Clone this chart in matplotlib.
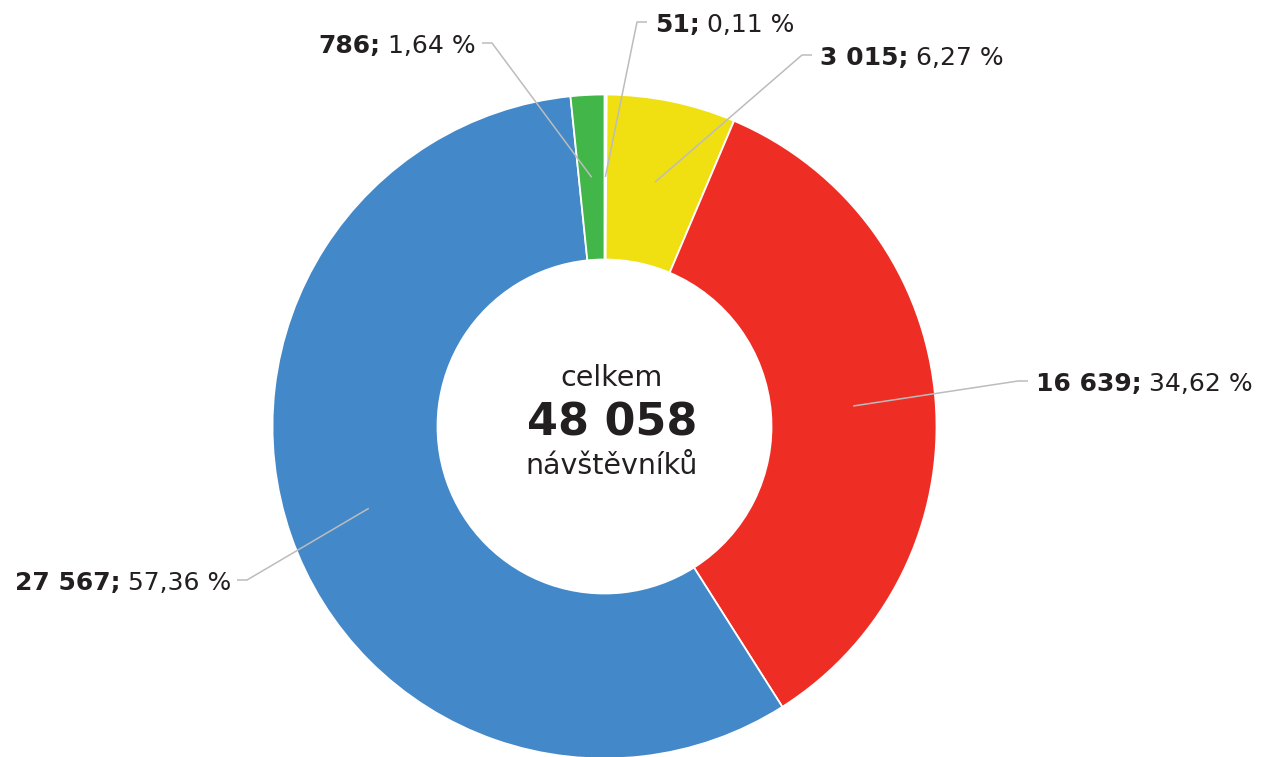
import numpy as np
import matplotlib.pyplot as plt

# -------------------------
# Data (clockwise from top)
# -------------------------
values = [51, 3015, 16639, 27567, 786]
value_labels = ["51;", "3 015;", "16 639;", "27 567;", "786;"]
pct_labels = ["0,11 %", "6,27 %", "34,62 %", "57,36 %", "1,64 %"]
total_label = "48 058"

colors = ["#eadbb5", "#f0e012", "#ee2e24", "#4388c8", "#43b649"]

# label layout in pixel coords (y measured from top): elbow point, side
elbows = [(637, 22), (802, 55), (1018, 381), (247, 580), (492, 43)]
sides = ["right", "right", "right", "left", "left"]

W, H = 1263, 757
cx, cy = 604.5, H - 426.5
R_out, ring = 332, 165
text_col = "#231f20"
line_col = "#bcbcbc"
fs = 18

fig = plt.figure(figsize=(W / 100, H / 100), dpi=100)
ax = fig.add_axes([0, 0, 1, 1])
ax.set_xlim(0, W)
ax.set_ylim(0, H)
ax.set_aspect("equal")
ax.axis("off")

wedges, _ = ax.pie(values, colors=colors, startangle=90, counterclock=False,
                   center=(cx, cy), radius=R_out,
                   wedgeprops=dict(width=ring, edgecolor="white", linewidth=1.3))
ax.set_xlim(0, W)
ax.set_ylim(0, H)

r_mid = R_out - ring / 2
for w, (ex, ey), side, vl, pl in zip(wedges, elbows, sides, value_labels, pct_labels):
    ang = np.deg2rad((w.theta1 + w.theta2) / 2)
    px, py = cx + r_mid * np.cos(ang), cy + r_mid * np.sin(ang)
    ey = H - ey
    hx = ex + 10 if side == "right" else ex - 10
    ax.plot([px, ex, hx], [py, ey, ey], color=line_col, lw=1.1,
            solid_capstyle="butt", zorder=3)
    ty = ey - 3
    if side == "right":
        t1 = ax.text(hx + 8, ty, vl, fontsize=fs, fontweight="bold",
                     color=text_col, ha="left", va="center")
        ax.annotate(pl, xy=(1, 0), xycoords=t1, xytext=(5.5, 0),
                    textcoords="offset points", fontsize=fs,
                    color=text_col, ha="left", va="bottom")
    else:
        t1 = ax.text(hx - 6, ty, pl, fontsize=fs, color=text_col,
                     ha="right", va="center")
        ax.annotate(vl, xy=(0, 0), xycoords=t1, xytext=(-5.5, 0),
                    textcoords="offset points", fontsize=fs,
                    fontweight="bold", color=text_col, ha="right", va="bottom")

tx = 612
ax.text(tx, H - 378, "celkem", fontsize=20.5, color=text_col,
        ha="center", va="center")
ax.text(tx, H - 423, total_label, fontsize=32, fontweight="bold",
        color=text_col, ha="center", va="center")
ax.text(tx, H - 466, "návštěvníků", fontsize=20.5, color=text_col,
        ha="center", va="center")

fig.savefig("out.png", dpi=100)
